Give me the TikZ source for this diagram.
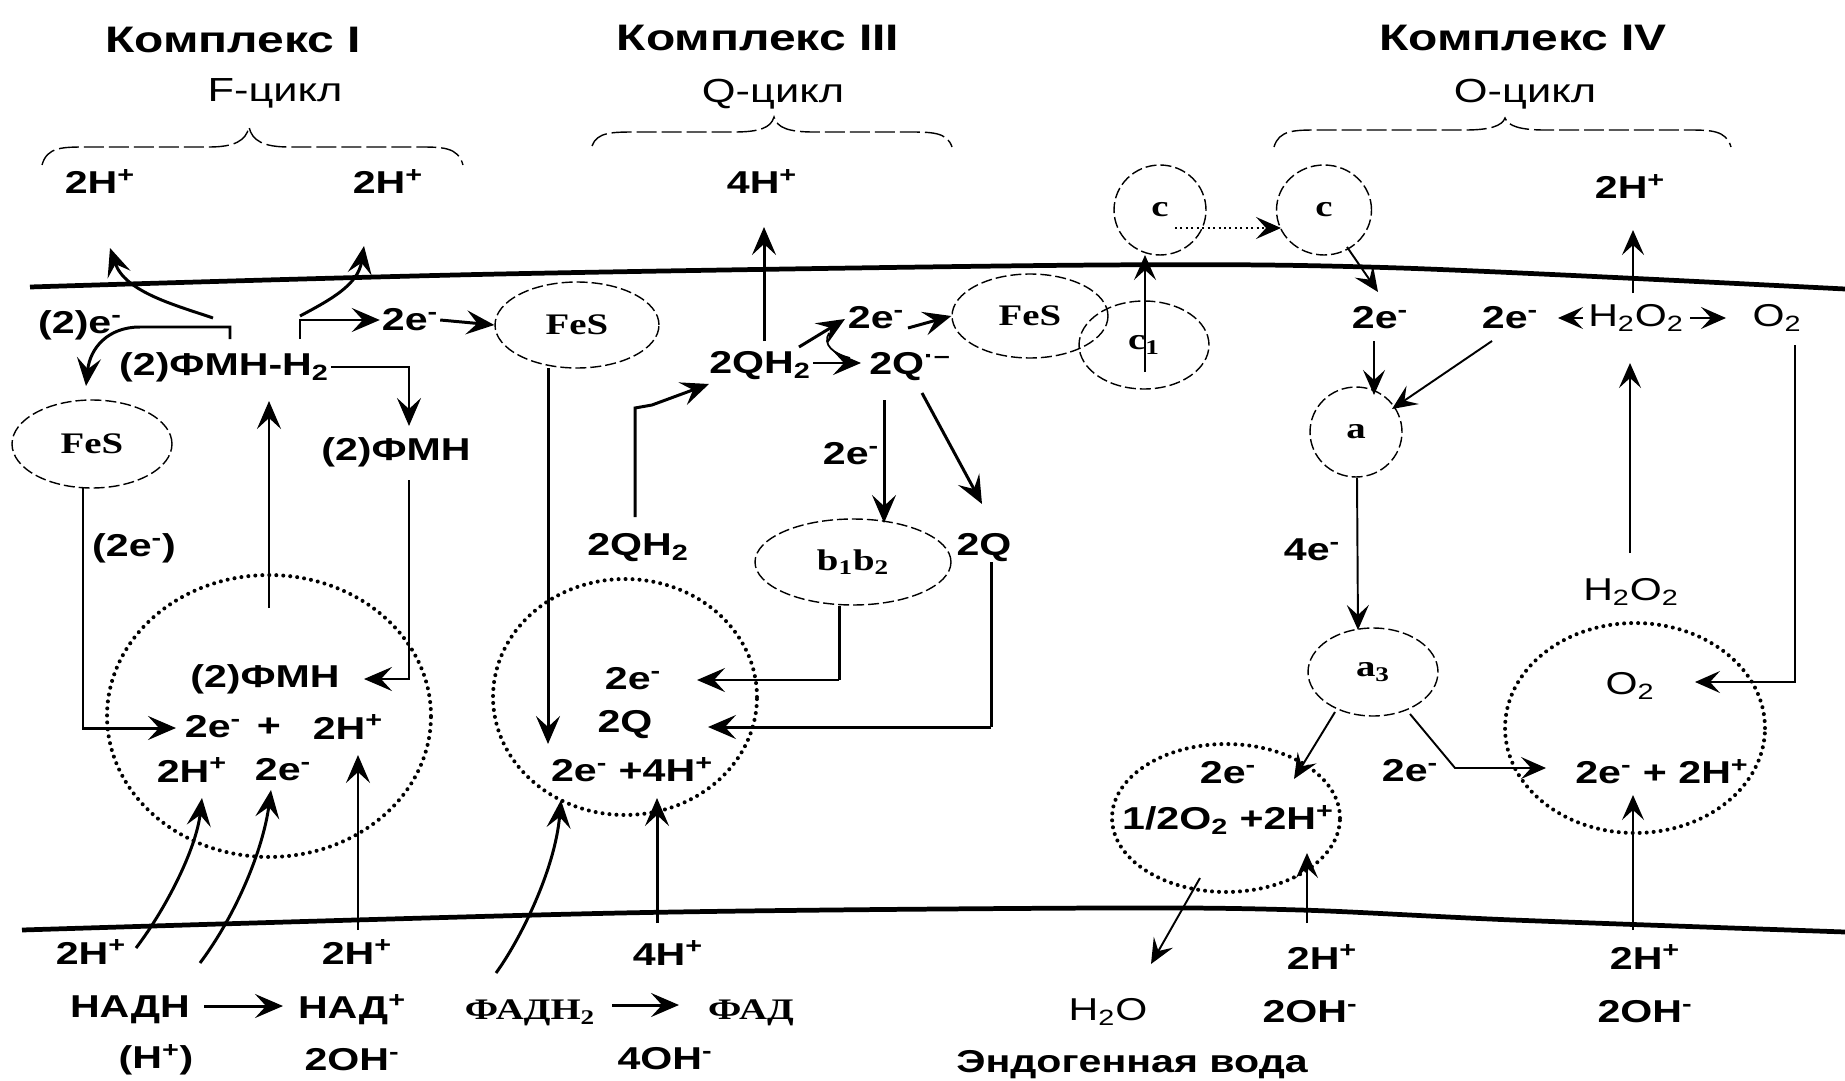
\documentclass[tikz,border=0pt]{standalone}
\usepackage{fontspec}
\setmainfont[FakeStretch=1.3]{Liberation Sans}
\newfontfamily\serifb[FakeStretch=1.3]{Liberation Serif}
\usetikzlibrary{arrows.meta,shapes.geometric}
\begin{document}
\begin{tikzpicture}[x=0.02cm,y=-0.02cm,
  hdr/.style={font=\bfseries\fontsize{21}{25}\selectfont, inner sep=1pt},
  subt/.style={font=\fontsize{19}{22}\selectfont, inner sep=1pt},
  lab/.style={font=\bfseries\fontsize{18}{21}\selectfont, inner sep=1pt},
  labr/.style={font=\fontsize{18}{21}\selectfont, inner sep=1pt},
  ser/.style={font=\serifb\bfseries\fontsize{17}{20}\selectfont},
  arw/.style={line width=1.7pt, -{Stealth[length=0.56cm,width=0.48cm,inset=0.22cm]}},
  tarw/.style={line width=1.1pt, -{Stealth[length=0.5cm,width=0.44cm,inset=0.2cm]}},
  ln/.style={line width=1.7pt},
  ovalnode/.style={ellipse, draw, line width=0.8pt, dash pattern=on 0.22cm off 0.08cm, inner sep=0pt},
  dotcirc/.style={ellipse, draw, line width=2.3pt, dash pattern=on 0pt off 0.14cm, line cap=round, inner sep=0pt},
  mem/.style={line width=2.7pt},
  brc/.style={line width=0.8pt, dash pattern=on 0.4cm off 0.1cm}]
\useasboundingbox (0,0) rectangle (1845,1081);
\fill[white] (0,0) rectangle (1845,1081);

% membranes
\draw[mem] plot[smooth] coordinates {(30,287) (500,274) (1100,265) (1400,268) (1845,289)};
\draw[mem] plot[smooth] coordinates {(22,930) (620,913) (1100,908) (1300,910) (1513,920) (1845,932)};

% braces
\draw[brc] (42,165) .. controls (47,147) and (62,147) .. (87,147) -- (209,147) .. controls (234,147) and (246,141) .. (249,127) .. controls (252,141) and (264,147) .. (289,147) -- (418,147) .. controls (443,147) and (458,147) .. (463,165);
\draw[brc] (592,146) .. controls (597,132) and (612,132) .. (637,132) -- (734,132) .. controls (759,132) and (771,128) .. (774,117) .. controls (777,128) and (789,132) .. (814,132) -- (907,132) .. controls (932,132) and (947,132) .. (952,147);
\draw[brc] (1274,147) .. controls (1279,130) and (1294,130) .. (1319,130) -- (1465,130) .. controls (1490,130) and (1502,126) .. (1505,118) .. controls (1508,126) and (1520,130) .. (1545,130) -- (1686,130) .. controls (1711,130) and (1726,130) .. (1731,147);

% headers
\node[hdr] (h1) at (233,40) {Комплекс I};
\node[subt] (s1) at (275,93) {F-цикл};
\node[hdr] (h3) at (758,38) {Комплекс III};
\node[subt] (s3) at (773,94) {Q-цикл};
\node[hdr] (h4) at (1523,38) {Комплекс IV};
\node[subt] (s4) at (1525,94) {O-цикл};

\node[lab] (t1) at (100,182) {2H\textsuperscript{+}};
\node[lab] (t2) at (388,182) {2H\textsuperscript{+}};
\node[lab] (t3) at (762,182) {4H\textsuperscript{+}};
\node[lab] (t4) at (1630,187) {2H\textsuperscript{+}};

% ---------- Complex I ----------
\node[lab] (e2a) at (80,325) {(2)e\textsuperscript{-}};
\node[lab] (fmnh2) at (224,367) {(2)ФМН-Н\textsubscript{2}};
\node[lab] (e2b) at (410,320) {2e\textsuperscript{-}};
\node[ovalnode, minimum width=3.28cm, minimum height=1.72cm, ser] (fes1) at (577,325) {FeS};
\node[ovalnode, minimum width=3.2cm, minimum height=1.76cm, ser] (fes0) at (92,444) {FeS};
\node[lab] (fmn) at (396,452) {(2)ФМН};
\node[lab] (e2c) at (134,548) {(2e\textsuperscript{-})};
\node[dotcirc, minimum width=6.48cm, minimum height=5.64cm] (circ1) at (269,716) {};
\node[lab] (fmn2) at (265,679) {(2)ФМН};
\node[lab] (c1e) at (213,727) {2e\textsuperscript{-}};
\node[lab] (c1p) at (269,727) {+};
\node[lab] (c1h) at (348,727) {2H\textsuperscript{+}};
\node[lab] (c1h2) at (192,770) {2H\textsuperscript{+}};
\node[lab] (c1e2) at (283,770) {2e\textsuperscript{-}};
\node[lab] (b1h) at (91,952) {2H\textsuperscript{+}};
\node[lab] (nadh) at (130,1010) {НАДН};
\node[lab] (nad) at (352,1010) {НАД\textsuperscript{+}};
\node[lab] (hpl) at (156,1060) {(H\textsuperscript{+})};
\node[lab] (b2h) at (357,952) {2H\textsuperscript{+}};
\node[lab] (oh1) at (352,1060) {2OH\textsuperscript{-}};

\draw[arw] (230,339) -- (230,327) -- (140,327) .. controls (108,327) and (90,348) .. (86,386);
\draw[arw] (213,318) .. controls (175,305) and (125,292) .. (110,248);
\draw[arw] (300,339) -- (300,320) -- (e2b.west);
\draw[arw] (300,316) .. controls (330,300) and (358,285) .. (364,246);
\draw[arw] (e2b.east) -- (fes1.west);
\draw[arw] (fmnh2.east) -- (409,367) -- (409,426);
\draw[arw] (409,480) -- (409,679) -- (364,679);
\draw[arw] (269,608) -- (269,401);
\draw[arw] (83,487) -- (83,728) -- (176,728);
\draw[arw] (358,930) -- (358,755);
\draw[arw] (136,948) .. controls (165,910) and (196,850) .. (202,798);
\draw[arw] (200,963) .. controls (236,915) and (263,850) .. (271,790);
\draw[arw] (204,1006) -- (283,1006);

% ---------- Complex III ----------
\node[lab] (q2h2u) at (760,366) {2QH\textsubscript{2}};
\node[lab] (q2m) at (910,367) {2Q\textsuperscript{·–}};
\node[lab] (e2q) at (876,318) {2e\textsuperscript{-}};
\node[ovalnode, minimum width=3.12cm, minimum height=1.68cm, ser] (fesm) at (1030,316) {FeS};
\node[ovalnode, minimum width=2.6cm, minimum height=1.76cm, ser] (cone) at (1144,345) {c\textsubscript{1}};
\node[ovalnode, minimum width=1.84cm, minimum height=1.8cm, ser] (cl) at (1160,210) {c};
\node[ovalnode, minimum width=1.9cm, minimum height=1.8cm, ser] (cr) at (1324,210) {c};
\node[lab] (e2v) at (851,454) {2e\textsuperscript{-}};
\node[ovalnode, minimum width=3.92cm, minimum height=1.72cm, ser] (bb) at (853,562) {b\textsubscript{1}b\textsubscript{2}};
\node[lab] (q2r) at (984,548) {2Q};
\node[lab] (q2h2l) at (638,548) {2QH\textsubscript{2}};
\node[dotcirc, minimum width=5.28cm, minimum height=4.72cm] (circ2) at (625,697) {};
\node[lab] (e2c2) at (633,679) {2e\textsuperscript{-}};
\node[lab] (q2c) at (625,725) {2Q};
\node[lab] (r2c2) at (632,770) {2e\textsuperscript{-} +4H\textsuperscript{+}};
\node[lab] (b4h) at (668,953) {4H\textsuperscript{+}};
\node[ser, inner sep=1pt] (fadh) at (530,1013) {ФАДН\textsubscript{2}};
\node[ser, inner sep=1pt] (fad) at (751,1013) {ФАД};
\node[lab] (oh4) at (665,1059) {4OH\textsuperscript{-}};

\draw[arw] (548,368) -- (548,744);
\draw[arw] (764,341) -- (764,227);
\draw[arw] (813,363) -- (861,363);
\draw[arw] (799,347) -- (845,319);
\draw[line width=1pt] (829,333) .. controls (822,345) and (834,354) .. (850,358);
\draw[arw] (908,328) -- (fesm.west);
\draw[tarw] (1145,372) -- (1145,255);
\draw[tarw, dotted, line width=1.3pt] (1175,228) -- (1281,228);
\draw[tarw] (1347,247) -- (1378,292);
\draw[arw] (884,400) -- (884,523);
\draw[arw] (922,393) -- (982,504);
\draw[arw] (635,517) -- (635,408) -- (652,405) -- (709,384);
\draw[ln] (839,606) -- (839,680);
\draw[arw] (839,680) -- (697,680);
\draw[ln] (991,562) -- (991,727);
\draw[arw] (991,727) -- (708,727);
\draw[arw] (657,923) -- (657,798);
\draw[arw] (496,973) .. controls (520,940) and (555,870) .. (561,800);
\draw[arw] (612,1005) -- (679,1005);

% ---------- Complex IV ----------
\node[lab] (e2L) at (1380,318) {2e\textsuperscript{-}};
\node[lab] (e2R) at (1510,318) {2e\textsuperscript{-}};
\node[labr] (h2o2t) at (1636,318) {H\textsubscript{2}O\textsubscript{2}};
\node[labr] (o2t) at (1777,318) {O\textsubscript{2}};
\node[ovalnode, minimum width=1.84cm, minimum height=1.8cm, ser] (acirc) at (1356,432) {a};
\node[lab] (e4) at (1312,550) {4e\textsuperscript{-}};
\node[ovalnode, minimum width=2.6cm, minimum height=1.76cm, ser] (a3) at (1373,672) {a\textsubscript{3}};
\node[lab] (e2m) at (1410,771) {2e\textsuperscript{-}};
\node[dotcirc, minimum width=4.56cm, minimum height=2.96cm] (circ3) at (1226,818) {};
\node[lab] (e2c3) at (1228,773) {2e\textsuperscript{-}};
\node[lab] (o2h) at (1228,820) {1/2O\textsubscript{2} +2H\textsuperscript{+}};
\node[labr] (h2o) at (1108,1012) {H\textsubscript{2}O};
\node[lab] (b5h) at (1322,957) {2H\textsuperscript{+}};
\node[lab] (oh5) at (1310,1012) {2OH\textsuperscript{-}};
\node[lab] (endo) at (1132,1065) {Эндогенная вода};
\node[dotcirc, minimum width=5.2cm, minimum height=4.2cm] (circ4) at (1635,728) {};
\node[labr] (o2c) at (1630,686) {O\textsubscript{2}};
\node[labr] (h2o2b) at (1631,592) {H\textsubscript{2}O\textsubscript{2}};
\node[lab] (e2h) at (1662,772) {2e\textsuperscript{-} + 2H\textsuperscript{+}};
\node[lab] (b6h) at (1645,957) {2H\textsuperscript{+}};
\node[lab] (oh6) at (1645,1012) {2OH\textsuperscript{-}};

\draw[tarw] (1583,318) -- (1558,318);
\draw[tarw] (1690,318) -- (1726,318);
\draw[tarw] (1633,293) -- (1633,230);
\draw[tarw] (1374,341) -- (1374,395);
\draw[tarw] (1492,341) -- (1392,409);
\draw[tarw] (1357,478) -- (1358,630);
\draw[tarw] (1335,712) -- (1294,779);
\draw[tarw] (1410,714) -- (1455,768) -- (1546,768);
\draw[tarw] (1200,878) -- (1151,964);
\draw[tarw] (1307,923) -- (1307,853);
\draw[tarw] (1630,553) -- (1630,363);
\draw[tarw] (1795,345) -- (1795,682) -- (1695,682);
\draw[tarw] (1633,930) -- (1633,795);
\end{tikzpicture}
\end{document}
